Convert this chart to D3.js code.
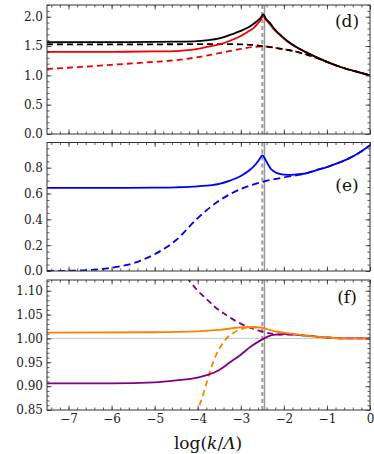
<!DOCTYPE html>
<html><head><meta charset="utf-8">
<script src="https://cdn.jsdelivr.net/npm/d3@7"></script>
<style>
html,body{margin:0;padding:0;background:#fff;}
svg{display:block;}
text{font-family:"DejaVu Serif",serif;}
</style></head>
<body><div id="chart"></div>
<script>
// ---------- data ----------
const xTicks = [-7, -6, -5, -4, -3, -2, -1, 0];
const vDashed = -2.5, vSolid = -2.45;

// panel (d)
const dBlackSolidX = [-7.5,-6,-5,-4.5,-4,-3.75,-3.5,-3.25,-3,-2.8,-2.7,-2.6,-2.55,-2.48,-2.42,-2.32,-2.25,-2.17,-2.05,-1.94,-1.75,-1.5,-1.25,-1,-0.75,-0.5,-0.25,0];
const dBlackSolidY = [1.565,1.566,1.57,1.575,1.585,1.60,1.63,1.69,1.76,1.83,1.88,1.94,1.97,2.04,1.97,1.89,1.82,1.75,1.67,1.60,1.50,1.40,1.31,1.23,1.16,1.10,1.05,1.0];
const dRedSolidX = [-7.5,-6,-5,-4.5,-4,-3.75,-3.5,-3.25,-3,-2.8,-2.7,-2.6,-2.55,-2.48,-2.42,-2.32,-2.25,-2.17,-2.05,-1.94,-1.75,-1.5,-1.25,-1,-0.75,-0.5,-0.25,0];
const dRedSolidY = [1.40,1.402,1.408,1.415,1.45,1.49,1.53,1.59,1.67,1.76,1.81,1.89,1.93,2.01,1.95,1.87,1.80,1.74,1.66,1.59,1.50,1.40,1.31,1.23,1.16,1.10,1.05,1.0];
const dBlackDashedX = [-7.5,-6,-5,-4,-3.5,-3,-2.75,-2.5,-2.25,-2,-1.75,-1.5,-1.25,-1,-0.75,-0.5,-0.25,0];
const dBlackDashedY = [1.53,1.53,1.53,1.532,1.533,1.53,1.52,1.50,1.475,1.445,1.41,1.36,1.30,1.23,1.16,1.10,1.05,1.0];
const dRedDashedX = [-7.5,-7,-6.5,-6,-5.5,-5,-4.5,-4,-3.5,-3,-2.75,-2.5,-2.25,-2,-1.75,-1.5,-1.25,-1,-0.75,-0.5,-0.25,0];
const dRedDashedY = [1.11,1.13,1.155,1.18,1.205,1.23,1.26,1.31,1.38,1.45,1.48,1.495,1.475,1.445,1.41,1.36,1.30,1.23,1.16,1.10,1.05,1.0];

// panel (e)
const eBlueSolidX = [-7.5,-6,-5,-4.5,-4,-3.5,-3.25,-3,-2.8,-2.7,-2.6,-2.55,-2.5,-2.45,-2.4,-2.35,-2.3,-2.2,-2.1,-2,-1.9,-1.75,-1.5,-1.25,-1,-0.75,-0.5,-0.25,0];
const eBlueSolidY = [0.643,0.643,0.645,0.648,0.656,0.675,0.70,0.735,0.78,0.81,0.85,0.875,0.895,0.875,0.845,0.815,0.79,0.765,0.752,0.746,0.745,0.747,0.755,0.78,0.805,0.835,0.87,0.915,0.975];
const eBlueDashedX = [-7.5,-7,-6.5,-6,-5.5,-5,-4.5,-4,-3.5,-3,-2.5,-2,-1.5,-1.25,-1,-0.75,-0.5,-0.25,0];
const eBlueDashedY = [0.0,0.002,0.008,0.025,0.06,0.13,0.24,0.41,0.545,0.635,0.69,0.725,0.755,0.78,0.805,0.835,0.87,0.915,0.975];

// panel (f)
const fOrangeSolidX = [-7.5,-5,-4,-3.5,-3,-2.75,-2.5,-2.25,-2,-1.75,-1.5,-1,-0.5,0];
const fOrangeSolidY = [1.012,1.013,1.015,1.018,1.023,1.024,1.022,1.016,1.012,1.009,1.006,1.002,1.0,1.0];
const fOrangeDashedX = [-4.1,-4.0,-3.9,-3.8,-3.7,-3.6,-3.5,-3.4,-3.3,-3.2,-3.0,-2.8,-2.6,-2.5];
const fOrangeDashedY = [0.82,0.85,0.875,0.905,0.935,0.96,0.978,0.992,1.003,1.01,1.019,1.023,1.023,1.022];
const fPurpleSolidX = [-7.5,-6,-5,-4.5,-4,-3.75,-3.5,-3.25,-3,-2.75,-2.5,-2.35,-2.2,-2,-1.75,-1.5,-1.25,-1,-0.5,0];
const fPurpleSolidY = [0.906,0.906,0.908,0.912,0.918,0.924,0.934,0.95,0.966,0.984,0.998,1.005,1.008,1.009,1.008,1.006,1.004,1.002,1.0,1.0];
const fPurpleDashedX = [-4.4,-4.2,-4.0,-3.8,-3.6,-3.4,-3.2,-3.0,-2.8,-2.6,-2.4,-2.2,-2.0,-1.75,-1.5,-1.25,-1,-0.5,0];
const fPurpleDashedY = [1.145,1.122,1.10,1.083,1.066,1.053,1.041,1.031,1.023,1.017,1.012,1.009,1.008,1.008,1.006,1.004,1.002,1.0,1.0];

// ---------- layout ----------
const W = 374, H = 454;
const L = 47, R = 370;
const panels = [
  {id:"d", top:5, bottom:134, domain:[0,2.2], major:[0,0.5,1.0,1.5,2.0], minorStep:0.1, fmt:".1f", label:"(d)", labelY:27,
   series:[
     {x:dRedDashedX, y:dRedDashedY, color:"#ee0000", dash:"6,4"},
     {x:dBlackDashedX, y:dBlackDashedY, color:"#000", dash:"6,4"},
     {x:dRedSolidX, y:dRedSolidY, color:"#ee0000"},
     {x:dBlackSolidX, y:dBlackSolidY, color:"#000"}
   ]},
  {id:"e", top:142.5, bottom:271, domain:[0,0.995], major:[0,0.2,0.4,0.6,0.8], minorStep:0.05, fmt:".1f", label:"(e)", labelY:191,
   series:[
     {x:eBlueDashedX, y:eBlueDashedY, color:"#0000ee", dash:"7,4"},
     {x:eBlueSolidX, y:eBlueSolidY, color:"#0000ee"}
   ]},
  {id:"f", top:280, bottom:410, domain:[0.85,1.1225], major:[0.85,0.90,0.95,1.00,1.05,1.10], minorStep:0.01, fmt:".2f", label:"(f)", labelY:303, hline:1.0,
   series:[
     {x:fPurpleDashedX, y:fPurpleDashedY, color:"#800080", dash:"6,4"},
     {x:fOrangeDashedX, y:fOrangeDashedY, color:"#ff8000", dash:"6,4"},
     {x:fPurpleSolidX, y:fPurpleSolidY, color:"#800080"},
     {x:fOrangeSolidX, y:fOrangeSolidY, color:"#ff8000"}
   ]}
];

const svg = d3.select("#chart").append("svg").attr("width", W).attr("height", H);
const x = d3.scaleLinear().domain([-7.5, 0]).range([L, R]);
const xMinor = d3.range(-7.4, 0.001, 0.2).map(v => +v.toFixed(2));

function range2(a, b, s) {
  const out = [];
  const n = Math.round((b - a) / s);
  for (let i = 0; i <= n; i++) out.push(+(a + i * s).toFixed(4));
  return out;
}

panels.forEach((p, pi) => {
  const y = d3.scaleLinear().domain(p.domain).range([p.bottom, p.top]);
  const g = svg.append("g");
  const clipId = "clip-" + p.id;
  svg.append("clipPath").attr("id", clipId).append("rect")
    .attr("x", L).attr("y", p.top).attr("width", R - L).attr("height", p.bottom - p.top);

  const plot = g.append("g").attr("clip-path", `url(#${clipId})`);

  if (p.hline !== undefined) {
    plot.append("line").attr("x1", L).attr("x2", R)
      .attr("y1", y(p.hline)).attr("y2", y(p.hline))
      .attr("stroke", "#c8c8c8").attr("stroke-width", 1);
  }
  // vertical reference lines
  plot.append("line").attr("x1", x(vSolid)).attr("x2", x(vSolid))
    .attr("y1", p.top).attr("y2", p.bottom)
    .attr("stroke", "#9a9a9a").attr("stroke-width", 1.5);
  plot.append("line").attr("x1", x(vDashed)).attr("x2", x(vDashed))
    .attr("y1", p.top).attr("y2", p.bottom)
    .attr("stroke", "#9a9a9a").attr("stroke-width", 2).attr("stroke-dasharray", "4,3");

  const line = d3.line().x(d => x(d[0])).y(d => y(d[1])).curve(d3.curveMonotoneX);
  p.series.forEach(s => {
    const pts = s.x.map((v, i) => [v, s.y[i]]);
    plot.append("path").attr("d", line(pts))
      .attr("fill", "none").attr("stroke", s.color).attr("stroke-width", 1.8)
      .attr("stroke-dasharray", s.dash || null);
  });

  // minor ticks
  const [d0, d1] = p.domain;
  const yMinor = range2(Math.ceil(d0 / p.minorStep - 1e-9) * p.minorStep, d1, p.minorStep)
    .filter(v => v >= d0 - 1e-9 && v <= d1 + 1e-9);
  const axStyle = sel => {
    sel.select(".domain").remove();
    sel.selectAll(".tick line").attr("stroke", "#333").attr("stroke-width", 0.8);
    sel.selectAll(".tick text").attr("fill", "#222").attr("font-size", 12)
      .attr("font-family", "DejaVu Serif, serif");
  };
  g.append("g").attr("transform", `translate(${L},0)`)
    .call(d3.axisLeft(y).tickValues(yMinor).tickSize(-2.5).tickFormat("")).call(axStyle);
  g.append("g").attr("transform", `translate(${R},0)`)
    .call(d3.axisRight(y).tickValues(yMinor).tickSize(-2.5).tickFormat("")).call(axStyle);
  g.append("g").attr("transform", `translate(${L},0)`)
    .call(d3.axisLeft(y).tickValues(p.major).tickSize(-4.5).tickPadding(4).tickFormat(d3.format(p.fmt))).call(axStyle);
  g.append("g").attr("transform", `translate(${R},0)`)
    .call(d3.axisRight(y).tickValues(p.major).tickSize(-4.5).tickFormat("")).call(axStyle);

  g.append("g").attr("transform", `translate(0,${p.top})`)
    .call(d3.axisTop(x).tickValues(xMinor).tickSize(-2.5).tickFormat("")).call(axStyle);
  g.append("g").attr("transform", `translate(0,${p.top})`)
    .call(d3.axisTop(x).tickValues(xTicks).tickSize(-4.5).tickFormat("")).call(axStyle);
  g.append("g").attr("transform", `translate(0,${p.bottom})`)
    .call(d3.axisBottom(x).tickValues(xMinor).tickSize(-2.5).tickFormat("")).call(axStyle);
  const isLast = pi === panels.length - 1;
  g.append("g").attr("transform", `translate(0,${p.bottom})`)
    .call(d3.axisBottom(x).tickValues(xTicks).tickSize(-4.5).tickPadding(4.5)
      .tickFormat(isLast ? d3.format("d") : "")).call(axStyle);

  // frame
  g.append("rect").attr("x", L).attr("y", p.top).attr("width", R - L).attr("height", p.bottom - p.top)
    .attr("fill", "none").attr("stroke", "#333").attr("stroke-width", 1);

  g.append("text").attr("x", 347).attr("y", p.labelY).attr("text-anchor", "middle")
    .attr("font-size", 17).attr("fill", "#111").text(p.label);
});

// x-axis title
const title = svg.append("text").attr("x", 208).attr("y", 449).attr("text-anchor", "middle")
  .attr("font-size", 17).attr("fill", "#111");
title.append("tspan").text("log(");
title.append("tspan").attr("font-style", "italic").text("k");
title.append("tspan").text("/");
title.append("tspan").attr("font-style", "italic").text("Λ");
title.append("tspan").text(")");
</script>
</body></html>
